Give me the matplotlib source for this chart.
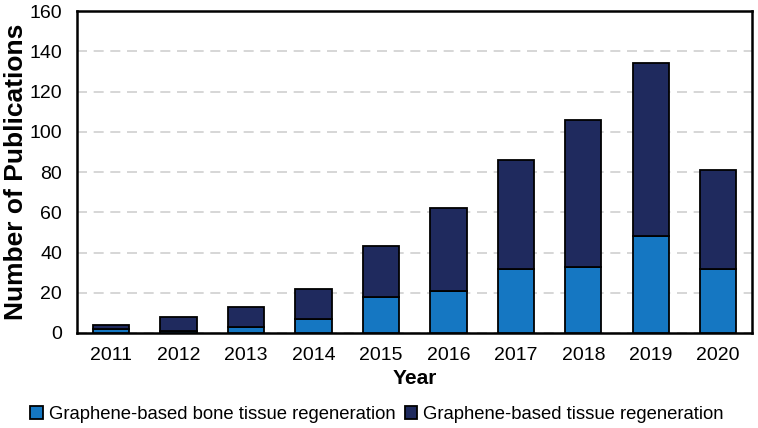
import numpy as np
import matplotlib.pyplot as plt

plt.rcParams['font.family'] = ['Liberation Sans', 'DejaVu Sans']

years = ['2011', '2012', '2013', '2014', '2015', '2016', '2017', '2018', '2019', '2020']
bone = [2, 1, 3, 7, 18, 21, 32, 33, 48, 32]
totals = [4, 8, 13, 22, 43, 62, 86, 106, 134, 81]
tissue = [t - b for t, b in zip(totals, bone)]

fig, ax = plt.subplots(figsize=(7.58, 4.28), dpi=100)
fig.subplots_adjust(left=0.102, right=0.992, top=0.974, bottom=0.222)

x = np.arange(len(years))
w = 0.54
ax.bar(x, bone, w, color='#1577c2', edgecolor='black', linewidth=1.3,
       label='Graphene-based bone tissue regeneration', zorder=3)
ax.bar(x, tissue, w, bottom=bone, color='#1f2a5e', edgecolor='black', linewidth=1.3,
       label='Graphene-based tissue regeneration', zorder=3)

ax.set_ylim(0, 160)
ax.set_xlim(-0.5, len(years) - 0.5)
ax.set_yticks(range(0, 161, 20))
ax.set_xticks(x)
ax.set_xticklabels(years)
ax.tick_params(axis='both', labelsize=14, length=0)
ax.tick_params(axis='x', pad=10)
ax.tick_params(axis='y', pad=11)
ax.yaxis.grid(True, linestyle=(0, (6, 4)), color='#d0d0d0', linewidth=1.2, zorder=0)
for s in ax.spines.values():
    s.set_linewidth(1.8)

ax.set_xlabel('Year', fontsize=15, fontweight='bold', labelpad=4)
ax.set_ylabel('Number of Publications', fontsize=19, fontweight='bold', labelpad=1)

ax.legend(loc='upper center', bbox_to_anchor=(0.444, -0.175), ncol=2, frameon=False,
          fontsize=13.3, handlelength=0.7, handleheight=0.7, handletextpad=0.3,
          columnspacing=0.5)

fig.savefig('out.png', dpi=100)
